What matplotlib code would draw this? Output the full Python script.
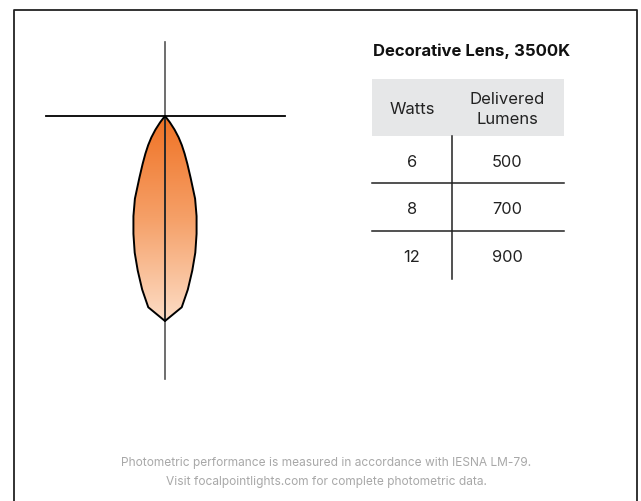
import numpy as np
import matplotlib
matplotlib.use("Agg")
import matplotlib.pyplot as plt
from matplotlib.patches import Polygon, Rectangle
from matplotlib.lines import Line2D
from matplotlib.colors import LinearSegmentedColormap

plt.rcParams['font.family'] = ['Inter', 'DejaVu Sans']

# candela distribution (deg from nadir, cd)
angles = [0, 5, 7.5, 10, 12.5, 15, 17.5, 20, 22.5, 25, 27.5, 30, 32.5, 35, 37.5, 40, 45, 60, 90]
candela = [1230, 1152, 1050, 942, 840, 732, 630, 528, 402, 318, 255, 202, 152, 100, 48, 6, 0, 0, 0]

title = "Decorative Lens, 3500K"
col_labels = [["Watts"], ["Delivered", "Lumens"]]
watts = ["6", "8", "12"]
lumens = ["500", "700", "900"]
footer = ["Photometric performance is measured in accordance with IESNA LM-79.",
          "Visit focalpointlights.com for complete photometric data."]

W, H = 641, 502
fig = plt.figure(figsize=(W / 100, H / 100), dpi=100)
fig.patch.set_facecolor("white")


def px_rect(x0, y0, x1, y1):
    return [x0 / W, 1 - y1 / H, (x1 - x0) / W, (y1 - y0) / H]


# --- photometric plot (6 cd per pixel) ---
ax = fig.add_axes(px_rect(40, 37, 291, 385))
ax.set_xlim(-125 * 6, 126 * 6)
ax.set_ylim(-(348 - 80) * 6, 80 * 6)
ax.axis("off")

th = np.radians(angles)
cd = np.array(candela, dtype=float)
xr = cd * np.sin(th)
yr = -cd * np.cos(th)
xs = np.concatenate([xr, -xr[::-1]])
ys = np.concatenate([yr, yr[::-1]])

poly = Polygon(np.column_stack([xs, ys]), closed=True, facecolor="none",
               edgecolor="black", lw=1.4, joinstyle="round", zorder=4)
ax.add_patch(poly)

cmap = LinearSegmentedColormap.from_list("lens", ["#F07224", "#F5A068", "#FDDDC6"])
grad = np.linspace(0, 1, 256).reshape(-1, 1)
im = ax.imshow(grad, cmap=cmap, aspect="auto", origin="upper",
               extent=[-cd.max(), cd.max(), -cd.max(), 0], zorder=2)
im.set_clip_path(poly)

ax.plot([0, 0], [74 * 6, -263 * 6], color="#555555", lw=1.2, zorder=3)
ax.plot([0, 0], [0, -cd.max()], color="#222222", lw=1.2, zorder=3)
ax.plot([-119 * 6, 120 * 6], [0, 0], color="black", lw=1.3, zorder=3)

# --- table (pixel coords) ---
tx = fig.add_axes([0, 0, 1, 1])
tx.set_xlim(0, W)
tx.set_ylim(H, 0)
tx.axis("off")
tx.patch.set_alpha(0)

tx.text(472, 51, title, ha="center", va="center", fontsize=12,
        fontweight="bold", color="#111111")
tx.add_patch(Rectangle((372, 80), 192, 57, facecolor="#E6E7E8", edgecolor="none"))
col_x = [412, 507]
for cx, lab in zip(col_x, col_labels):
    n = len(lab)
    for k, line in enumerate(lab):
        tx.text(cx, 109 + (k - (n - 1) / 2) * 20, line, ha="center", va="center",
                fontsize=12, color="#222222")

row_y = [163, 210, 258]
for i, (w, l) in enumerate(zip(watts, lumens)):
    tx.text(col_x[0], row_y[i], w, ha="center", va="center", fontsize=11.8, color="#222222")
    tx.text(col_x[1], row_y[i], l, ha="center", va="center", fontsize=11.8, color="#222222")
    if i < len(watts) - 1:
        tx.plot([372, 564], [(row_y[i] + row_y[i + 1]) / 2 - 2.5] * 2, color="#222222", lw=1.1)
tx.plot([452, 452], [137, 280], color="#222222", lw=1.1)

tx.text(326, 463, footer[0], ha="center", va="center", fontsize=8.6, color="#A8A8A8")
tx.text(326, 482, footer[1], ha="center", va="center", fontsize=8.6, color="#A8A8A8")

# outer frame
fig.add_artist(Line2D([14 / W, 14 / W, 637 / W, 637 / W], [0, 1 - 11 / H, 1 - 11 / H, 0],
                      transform=fig.transFigure, color="#222222", lw=1.3))

fig.savefig("out.png", dpi=100, facecolor="white")
